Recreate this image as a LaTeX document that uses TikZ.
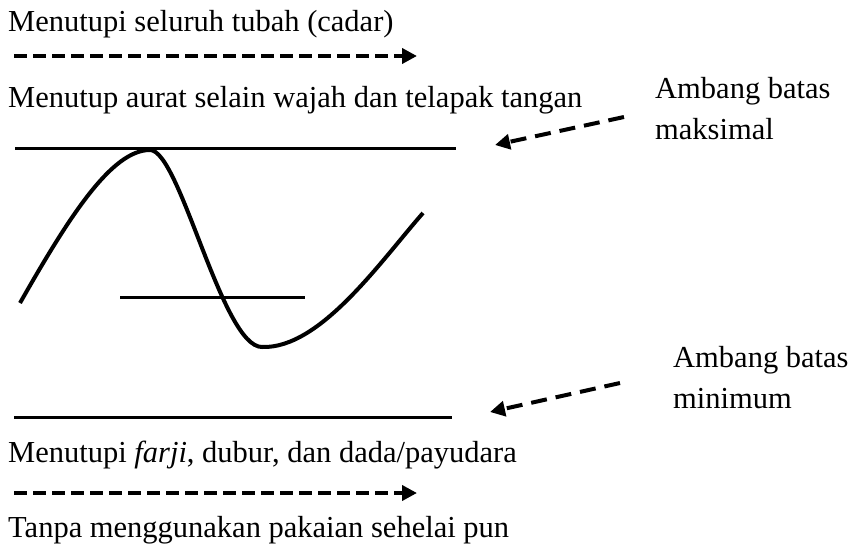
\documentclass[tikz,border=0pt]{standalone}
\usepackage{fontspec}
\setmainfont{Liberation Serif}
\usetikzlibrary{arrows.meta}
\begin{document}
\begin{tikzpicture}[x=1pt,y=-1pt,
  lbl/.style={anchor=base west, inner sep=0pt, font=\fontsize{30.5}{36}\selectfont},
  levelline/.style={line width=3pt},
  wave/.style={line width=4pt},
  flowarrow/.style={line width=4pt, dash pattern=on 13pt off 6pt, -{Triangle[length=15pt,width=15pt]}},
  pointarrow/.style={line width=4pt, dash pattern=on 16pt off 9pt, -{Triangle[length=15pt,width=15pt]}},
]
\useasboundingbox (0,0) rectangle (861,551);

% texts
\node[lbl] (t1) at (8,32) {Menutupi seluruh tubah (cadar)};
\node[lbl] (t2) at (8,107) {Menutup aurat selain wajah dan telapak tangan};
\node[lbl] (t3) at (8,462) {Menutupi \textit{farji}, dubur, dan dada/payudara};
\node[lbl] (t4) at (8,537) {Tanpa menggunakan pakaian sehelai pun};
\node[lbl] (mx1) at (655,98) {Ambang batas};
\node[lbl] (mx2) at (655,139) {maksimal};
\node[lbl] (mn1) at (673,367) {Ambang batas};
\node[lbl] (mn2) at (673,408) {minimum};

% flow arrows
\coordinate (f1s) at (14,56);
\coordinate (f1e) at (417,56);
\coordinate (f2s) at (14,493);
\coordinate (f2e) at (417,493);
\draw[flowarrow] (f1s) -- (f1e);
\draw[flowarrow] (f2s) -- (f2e);

% level lines
\coordinate (topL) at (15,148);
\coordinate (topR) at (456,148);
\coordinate (midL) at (120,297);
\coordinate (midR) at (305,297);
\coordinate (botL) at (14,417);
\coordinate (botR) at (452,417);
\draw[levelline] (topL) -- (topR);
\draw[levelline] (midL) -- (midR);
\draw[levelline] (botL) -- (botR);

% wave
\coordinate (w0) at (20,303);
\coordinate (w1) at (150,150);
\coordinate (w2) at (262,347);
\coordinate (w3) at (423,213);
\draw[wave] (w0) .. controls (70,215) and (112,150) .. (w1)
  .. controls (180,150) and (222,347) .. (w2)
  .. controls (320,349) and (380,262) .. (w3);

% pointer arrows
\coordinate (p1s) at (624,117);
\coordinate (p1e) at (495,145);
\coordinate (p2s) at (620,383);
\coordinate (p2e) at (490,412);
\draw[pointarrow] (p1s) -- (p1e);
\draw[pointarrow] (p2s) -- (p2e);
\end{tikzpicture}
\end{document}
